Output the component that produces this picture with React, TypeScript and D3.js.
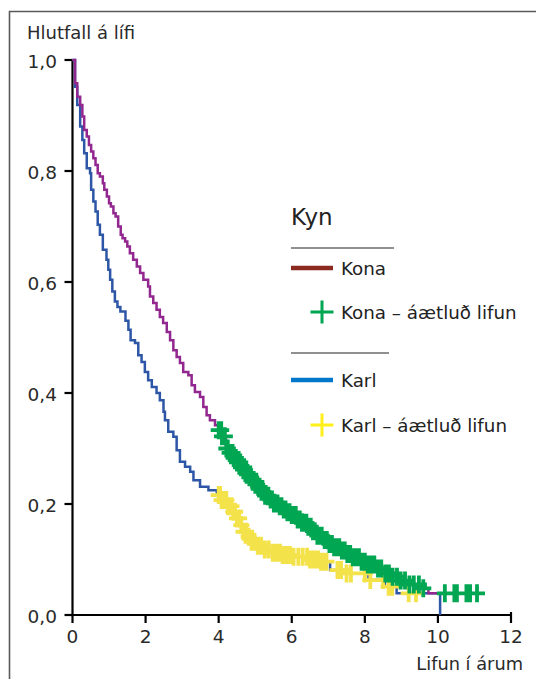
import React from 'react';
import * as d3 from 'd3';

// Kaplan-Meier steps: [time in years, survival after the drop]
const konaSteps: [number, number][] = [
  [0, 1], [0.07, 0.958], [0.13, 0.934], [0.21, 0.919], [0.27, 0.898], [0.32, 0.874],
  [0.39, 0.862], [0.45, 0.847], [0.51, 0.835], [0.57, 0.823], [0.63, 0.811], [0.69, 0.796],
  [0.75, 0.79], [0.83, 0.778], [0.87, 0.766], [0.94, 0.754], [1.0, 0.742], [1.05, 0.736],
  [1.12, 0.724], [1.18, 0.718], [1.25, 0.7], [1.32, 0.685], [1.37, 0.679], [1.44, 0.673],
  [1.5, 0.664], [1.57, 0.652], [1.66, 0.64], [1.76, 0.628], [1.85, 0.616], [1.94, 0.604],
  [2.07, 0.592], [2.12, 0.574], [2.21, 0.562], [2.3, 0.55], [2.39, 0.537], [2.48, 0.526],
  [2.58, 0.51], [2.67, 0.495], [2.76, 0.477], [2.85, 0.465], [2.94, 0.454], [3.03, 0.438],
  [3.17, 0.432], [3.26, 0.414], [3.35, 0.402], [3.49, 0.393], [3.58, 0.375], [3.67, 0.36],
  [3.76, 0.351], [3.9, 0.342], [3.99, 0.333], [4.08, 0.322], [4.2, 0.3], [4.3, 0.292],
  [4.4, 0.283], [4.5, 0.275], [4.6, 0.266], [4.72, 0.256], [4.82, 0.248], [4.93, 0.24],
  [5.04, 0.231], [5.15, 0.222], [5.26, 0.215], [5.38, 0.208], [5.5, 0.201], [5.62, 0.196],
  [5.75, 0.19], [5.88, 0.185], [6.0, 0.18], [6.12, 0.172], [6.25, 0.166], [6.41, 0.159],
  [6.55, 0.151], [6.7, 0.143], [6.86, 0.135], [7.0, 0.128], [7.15, 0.122], [7.32, 0.116],
  [7.48, 0.11], [7.65, 0.104], [7.87, 0.096], [8.05, 0.091], [8.33, 0.084], [8.5, 0.075],
  [8.69, 0.069], [8.95, 0.062], [9.2, 0.055], [9.51, 0.048], [9.74, 0.039], [11.1, 0.039],
];

const karlSteps: [number, number][] = [
  [0, 1], [0.07, 0.952], [0.13, 0.919], [0.21, 0.88], [0.27, 0.856], [0.32, 0.832],
  [0.39, 0.805], [0.48, 0.796], [0.51, 0.766], [0.57, 0.745], [0.63, 0.727], [0.69, 0.703],
  [0.75, 0.685], [0.83, 0.658], [0.93, 0.64], [0.98, 0.622], [1.03, 0.604], [1.09, 0.583],
  [1.16, 0.565], [1.23, 0.555], [1.31, 0.547], [1.45, 0.53], [1.53, 0.514], [1.59, 0.495],
  [1.71, 0.49], [1.8, 0.468], [1.89, 0.456], [1.98, 0.438], [2.07, 0.423], [2.17, 0.411],
  [2.3, 0.4], [2.39, 0.387], [2.49, 0.366], [2.53, 0.351], [2.62, 0.33], [2.76, 0.321],
  [2.85, 0.297], [2.94, 0.276], [3.08, 0.267], [3.22, 0.258], [3.31, 0.243], [3.49, 0.231],
  [3.72, 0.225], [3.95, 0.216], [4.08, 0.207], [4.22, 0.196], [4.36, 0.186], [4.48, 0.174],
  [4.58, 0.162], [4.68, 0.15], [4.77, 0.141], [4.9, 0.132], [5.05, 0.125], [5.2, 0.118],
  [5.39, 0.112], [5.7, 0.108], [6.0, 0.105], [6.5, 0.1], [6.77, 0.096], [7.05, 0.081],
  [7.5, 0.075], [8.1, 0.063], [8.55, 0.051], [8.87, 0.039], [10.06, 0],
];

// censored observations (áætluð lifun)
const konaCensor = [
  4.0, 4.02, 4.04, 4.07, 4.09, 4.12, 4.15, 4.17, 4.21, 4.23, 4.25, 4.3, 4.32, 4.34, 4.38,
  4.41, 4.43, 4.47, 4.5, 4.52, 4.56, 4.59, 4.61, 4.66, 4.7, 4.73, 4.75, 4.79, 4.84, 4.87,
  4.89, 4.93, 4.98, 5.01, 5.03, 5.08, 5.12, 5.17, 5.2, 5.22, 5.27, 5.32, 5.36, 5.42, 5.46,
  5.51, 5.55, 5.57, 5.61, 5.67, 5.72, 5.78, 5.83, 5.88, 5.94, 6.0, 6.05, 6.11, 6.16, 6.22,
  6.28, 6.34, 6.4, 6.45, 6.52, 6.58, 6.63, 6.7, 6.77, 6.82, 6.9, 6.96, 7.03, 7.1, 7.16,
  7.23, 7.3, 7.37, 7.45, 7.52, 7.6, 7.67, 7.76, 7.84, 7.91, 8.0, 8.08, 8.18, 8.26, 8.36,
  8.45, 8.56, 8.66, 8.76, 8.88, 8.98, 9.1, 9.22, 9.34, 9.48, 9.6,
  10.19, 10.45, 10.52, 10.78, 10.88, 11.07,
];

const karlCensor = [
  4.0, 4.02, 4.04, 4.08, 4.1, 4.12, 4.17, 4.21, 4.26, 4.3, 4.35, 4.4, 4.45, 4.5, 4.56,
  4.62, 4.68, 4.75, 4.82, 4.9, 4.98, 5.07, 5.16, 5.26, 5.37, 5.48, 5.55, 5.6, 5.68, 5.75,
  5.85, 5.95, 6.05, 6.18, 6.3, 6.42, 6.5, 6.58, 6.65, 6.72, 6.8, 6.88, 6.95, 7.25, 7.35,
  7.5, 7.62, 8.0, 8.15, 8.5, 8.65, 8.75, 9.2, 9.4,
];

const xTicks = [0, 2, 4, 6, 8, 10, 12];
const yTicks = [0, 0.2, 0.4, 0.6, 0.8, 1.0];
const yTickLabels = ['0,0', '0,2', '0,4', '0,6', '0,8', '1,0'];

const legendTitle = 'Kyn';
const legendItems = [
  { label: 'Kona', kind: 'line', color: '#8B2B1F' },
  { label: 'Kona – áætluð lifun', kind: 'cross', color: '#00A651' },
  { label: 'Karl', kind: 'line', color: '#0077C8' },
  { label: 'Karl – áætluð lifun', kind: 'cross', color: '#FFEF1A' },
];

const W = 536;
const H = 679;
const font = '"DejaVu Sans", sans-serif';

const x = d3.scaleLinear().domain([0, 12]).range([72.5, 511]);
const y = d3.scaleLinear().domain([0, 1]).range([615, 60]);

const stepLine = d3
  .line<[number, number]>()
  .curve(d3.curveStepAfter)
  .x((d) => x(d[0]))
  .y((d) => y(d[1]));

const bisect = d3.bisector((d: [number, number]) => d[0]).right;
function survivalAt(steps: [number, number][], t: number) {
  const i = bisect(steps, t) - 1;
  return steps[Math.max(0, i)][1];
}

function crossPath(cx: number, cy: number, hw: number, hh: number) {
  return `M${cx - hw},${cy}H${cx + hw}M${cx},${cy - hh}V${cy + hh}`;
}

const App = () => {
  const konaMarks = konaCensor.map((t) => crossPath(x(t), y(survivalAt(konaSteps, t)), 8, 9)).join('');
  const karlMarks = karlCensor.map((t) => crossPath(x(t), y(survivalAt(karlSteps, t)), 8, 9)).join('');

  const legendRows = [268, 312, 380, 425];

  return (
    <svg
      width={W}
      height={H}
      style={{ position: 'absolute', left: 0, top: 0, background: '#fff' }}
      fontFamily={font}
    >
      {/* frame */}
      <path d={`M9.5,${H}V11.5H${W}`} fill="none" stroke="#5a5a5a" strokeWidth={1.6} />

      <text x={27} y={39} fontSize={18} fill="#2a2a2a">
        Hlutfall á lífi
      </text>
      <text x={523} y={670} fontSize={17.8} fill="#2a2a2a" textAnchor="end">
        Lifun í árum
      </text>

      {/* y axis */}
      <line x1={x(0)} x2={x(0)} y1={y(1)} y2={y(0)} stroke="#000" strokeWidth={2.2} />
      {yTicks.map((v, i) => (
        <g key={v}>
          <line x1={x(0) - 8} x2={x(0)} y1={y(v)} y2={y(v)} stroke="#000" strokeWidth={2.2} />
          <text x={57} y={y(v) + 8} fontSize={18.5} fill="#2a2a2a" textAnchor="end">
            {yTickLabels[i]}
          </text>
        </g>
      ))}

      {/* x axis */}
      <line x1={x(0)} x2={x(12)} y1={y(0)} y2={y(0)} stroke="#000" strokeWidth={2.2} />
      {xTicks.map((v) => (
        <g key={v}>
          <line
            x1={x(v)}
            x2={x(v)}
            y1={v === 12 ? y(0) - 3 : y(0)}
            y2={y(0) + 8}
            stroke="#000"
            strokeWidth={2.2}
          />
          <text x={x(v)} y={643} fontSize={18.5} fill="#2a2a2a" textAnchor="middle">
            {v}
          </text>
        </g>
      ))}

      {/* survival curves */}
      <path d={stepLine(karlSteps) ?? ''} fill="none" stroke="#2D56A6" strokeWidth={2.5} />
      <path d={stepLine(konaSteps) ?? ''} fill="none" stroke="#92278F" strokeWidth={2.5} />

      {/* censor marks */}
      <path d={karlMarks} fill="none" stroke="#F4E24A" strokeWidth={3.8} />
      <path d={konaMarks} fill="none" stroke="#00A651" strokeWidth={3.8} />

      {/* legend */}
      <text x={291} y={225} fontSize={23} fill="#222">
        {legendTitle}
      </text>
      <line x1={291} x2={394} y1={248} y2={248} stroke="#222" strokeWidth={1.2} />
      <line x1={291} x2={389} y1={353} y2={353} stroke="#222" strokeWidth={1.2} />
      {legendItems.map((item, i) => {
        const cy = legendRows[i];
        return (
          <g key={item.label}>
            {item.kind === 'line' ? (
              <line x1={291} x2={333} y1={cy} y2={cy} stroke={item.color} strokeWidth={4.5} />
            ) : (
              <path d={crossPath(322, cy, 11.5, 11.5)} stroke={item.color} strokeWidth={3} fill="none" />
            )}
            <text x={341} y={cy + 7} fontSize={18.3} fill="#222">
              {item.label}
            </text>
          </g>
        );
      })}
    </svg>
  );
};

export default App;
